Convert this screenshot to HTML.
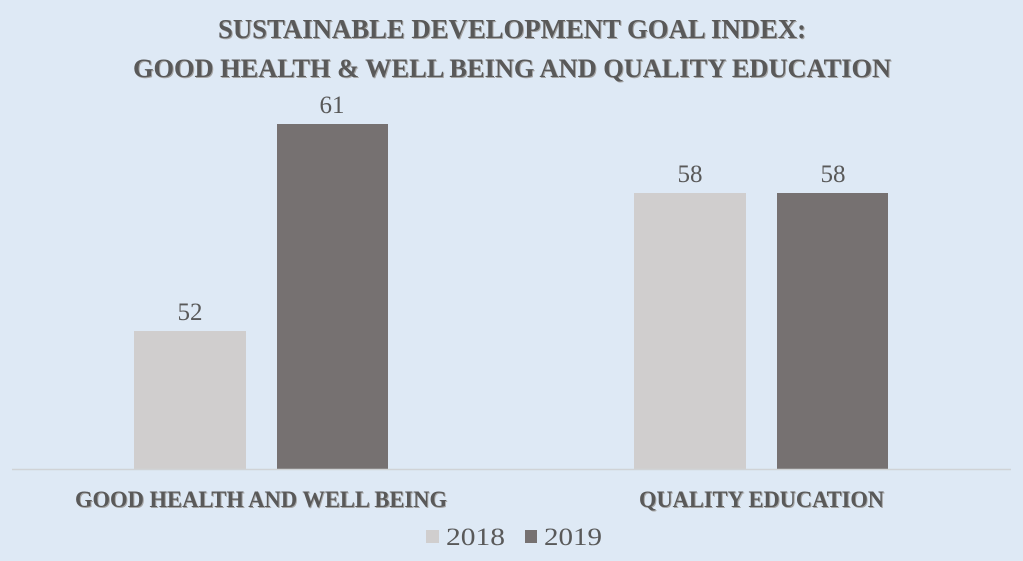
<!DOCTYPE html>
<html>
<head>
<meta charset="utf-8">
<style>
  html, body { margin: 0; padding: 0; background: #dee9f5; }
  svg { display: block; }
  text { font-family: "Liberation Serif", serif; fill: #595959; }
  .sh { text-shadow: 1px 1px 0 #a6a6a6; }
</style>
</head>
<body>
<svg width="1023" height="561" viewBox="0 0 1023 561" xmlns="http://www.w3.org/2000/svg">
  <rect x="0" y="0" width="1023" height="561" fill="#dee9f5"/>

  <!-- Title -->
  <text class="sh" x="218" y="38" font-size="27" font-weight="bold" textLength="588" lengthAdjust="spacingAndGlyphs">SUSTAINABLE DEVELOPMENT GOAL INDEX:</text>
  <text class="sh" x="133" y="77" font-size="26" font-weight="bold" textLength="758" lengthAdjust="spacingAndGlyphs">GOOD HEALTH &amp; WELL BEING AND QUALITY EDUCATION</text>

  <!-- Bars -->
  <rect x="134" y="331" width="112" height="138" fill="#d0cece"/>
  <rect x="277" y="124" width="111" height="345" fill="#767171"/>
  <rect x="634" y="193" width="112" height="276" fill="#d0cece"/>
  <rect x="777" y="193" width="111" height="276" fill="#767171"/>

  <!-- Axis line -->
  <line x1="12" y1="469.5" x2="1011" y2="469.5" stroke="#d0d3d6" stroke-width="1.5"/>

  <!-- Data labels -->
  <text x="190" y="320" font-size="25" text-anchor="middle">52</text>
  <text x="332" y="113" font-size="25" text-anchor="middle">61</text>
  <text x="690" y="182" font-size="25" text-anchor="middle">58</text>
  <text x="833" y="182" font-size="25" text-anchor="middle">58</text>

  <!-- Category labels -->
  <text class="sh" x="75" y="507" font-size="23" font-weight="bold" textLength="372" lengthAdjust="spacingAndGlyphs">GOOD HEALTH AND WELL BEING</text>
  <text class="sh" x="639" y="507" font-size="23" font-weight="bold" textLength="245" lengthAdjust="spacingAndGlyphs">QUALITY EDUCATION</text>

  <!-- Legend -->
  <rect x="426" y="530" width="13" height="13" fill="#d0cece"/>
  <text x="446" y="545" font-size="25" textLength="59" lengthAdjust="spacingAndGlyphs">2018</text>
  <rect x="525" y="530" width="12" height="13" fill="#767171"/>
  <text x="544" y="545" font-size="25" textLength="58" lengthAdjust="spacingAndGlyphs">2019</text>
</svg>
</body>
</html>
